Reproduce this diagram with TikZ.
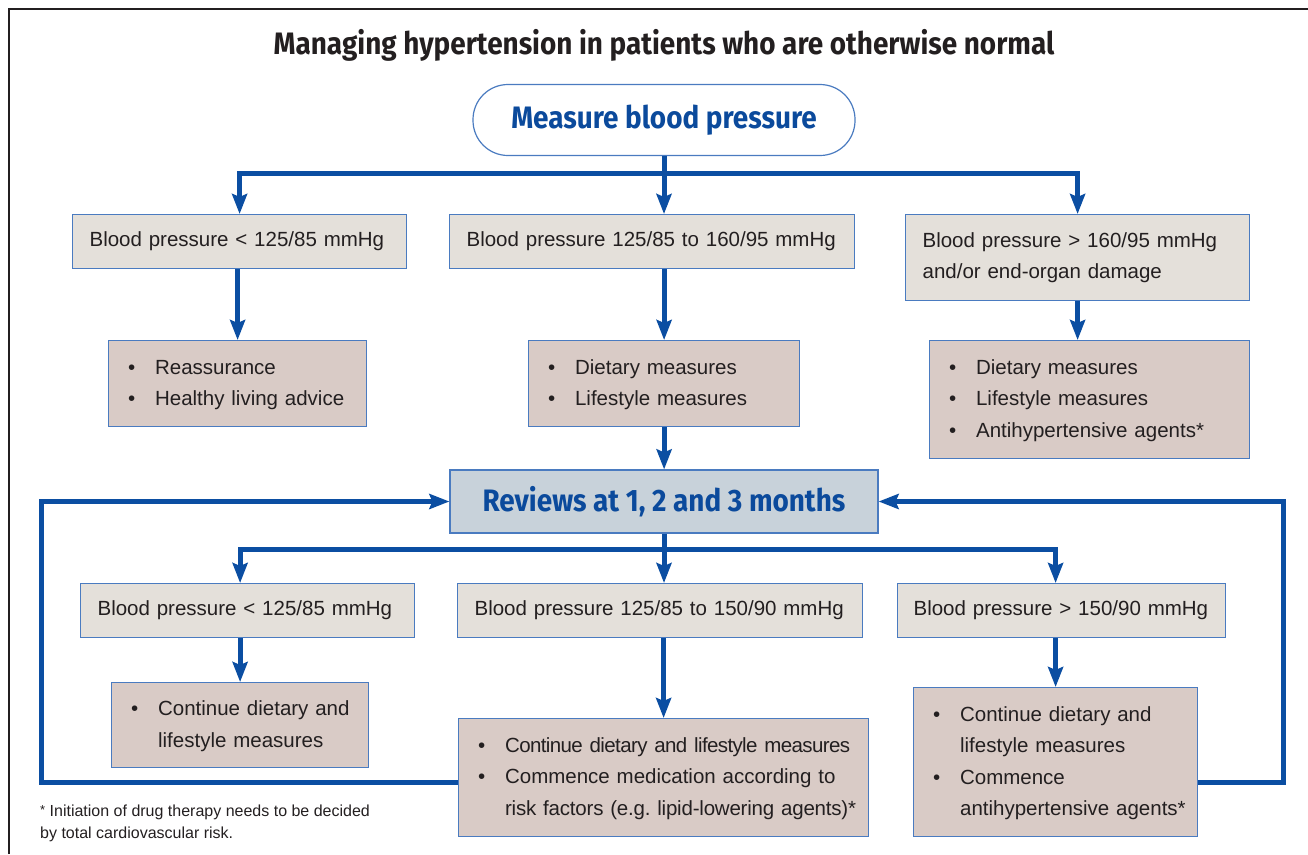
\documentclass[tikz,border=0pt]{standalone}
\usepackage{fontspec}
\setmainfont{Liberation Sans}
\newfontfamily\headfont[FakeStretch=0.9]{Fira Sans}
\usetikzlibrary{arrows.meta,calc}

\definecolor{arrowblue}{HTML}{0B4EA2}
\definecolor{boxline}{HTML}{4A7BC0}
\definecolor{greyfill}{HTML}{E4E0DA}
\definecolor{rosefill}{HTML}{D9CBC6}
\definecolor{reviewfill}{HTML}{C8D2DA}
\definecolor{inkgray}{HTML}{231F20}
\definecolor{headblue}{HTML}{0B4A9C}

\newcommand{\bul}{\makebox[27pt][l]{\textbullet}}
\newcommand{\blist}[1]{\begin{tabular}{@{}l@{}l@{}}#1\end{tabular}}
\newcommand{\tight}[1]{{\addfontfeature{LetterSpace=-3}#1}}

\begin{document}
\begin{tikzpicture}[x=1pt,y=-1pt,
    every node/.style={font=\fontsize{20.5}{31.5}\selectfont, text=inkgray},
    headtext/.style={font=\headfont\bfseries\fontsize{31}{36}\selectfont},
    bpbox/.style={draw=boxline, line width=1.2pt, fill=greyfill, anchor=north west, align=left, inner xsep=17pt, inner ysep=0pt},
    todo/.style={bpbox, fill=rosefill, inner xsep=19.5pt},
    stadium/.style={draw=boxline, line width=1.2pt, fill=white, rounded corners=35pt, minimum width=382pt, minimum height=71pt, headtext, text=headblue},
    flow/.style={draw=arrowblue, line width=5pt, -{Stealth[length=20pt,width=15pt,inset=3pt]}}]
    \useasboundingbox (0,0) rectangle (1308,854);
    \draw[inkgray, line width=1.3pt] (9,854) -- (9,9) -- (1308,9);

    \node[headtext] (title) at (664,45) {Managing hypertension in patients who are otherwise normal};
    \node[stadium] (mbp) at (664,120) {Measure blood pressure};

    \node[bpbox, text width=300pt, minimum height=54pt] (a1) at (72,214) {Blood pressure < 125/85 mmHg};
    \node[bpbox, text width=371pt, minimum height=54pt] (a2) at (449,214) {Blood pressure 125/85 to 160/95 mmHg};
    \node[bpbox, text width=310pt, minimum height=86pt] (a3) at (905,214) {Blood pressure > 160/95 mmHg\\and/or end-organ damage};

    \node[todo, text width=219pt, minimum height=86pt] (b1) at (108,340) {\blist{\bul&Reassurance\\\bul&Healthy living advice}};
    \node[todo, text width=232pt, minimum height=86pt] (b2) at (528,340) {\blist{\bul&Dietary measures\\\bul&Lifestyle measures}};
    \node[todo, text width=281pt, minimum height=118pt] (b3) at (929,340) {\blist{\bul&Dietary measures\\\bul&Lifestyle measures\\\bul&Antihypertensive agents*}};

    \node[draw=boxline, line width=1.2pt, fill=reviewfill, minimum width=428pt, minimum height=63pt, headtext, text=headblue] (rev) at (664,501.5) {Reviews at 1, 2 and 3 months};

    \node[bpbox, text width=300pt, minimum height=54pt] (d1) at (80,583) {Blood pressure < 125/85 mmHg};
    \node[bpbox, text width=371pt, minimum height=54pt] (d2) at (457,583) {Blood pressure 125/85 to 150/90 mmHg};
    \node[bpbox, inner xsep=16pt, text width=296pt, minimum height=54pt] (d3) at (897,583) {Blood pressure > 150/90 mmHg};

    \node[todo, text width=218pt, minimum height=85pt] (e1) at (111,682) {\blist{\bul&Continue dietary and\\&lifestyle measures}};
    \node[todo, text width=371pt, minimum height=118pt] (e2) at (458,718) {\blist{\bul&\tight{Continue dietary and lifestyle measures}\\\bul&Commence medication according to\\&{\addfontfeature{LetterSpace=-1}risk factors (e.g.\ lipid-lowering agents)*}}};
    \node[todo, text width=245pt, minimum height=149pt] (e3) at (913,687) {\blist{\bul&Continue dietary and\\&lifestyle measures\\\bul&Commence\\&antihypertensive agents*}};

    \node[anchor=north west, align=left, inner sep=0pt, font=\fontsize{16}{22}\selectfont] (note) at (40,805) {\raisebox{2.5pt}{\fontsize{13}{13}\selectfont*} Initiation of drug therapy needs to be decided\\by total cardiovascular risk.};

    \coordinate (j1) at ($(mbp.south)+(0,17)$);
    \draw[flow] (mbp.south) -- (mbp.south |- a2.north);
    \draw[flow] (j1) -| (a1.north);
    \draw[flow] (j1) -| (a3.north);
    \draw[flow] (b1.north |- a1.south) -- (b1.north);
    \draw[flow] (b2.north |- a2.south) -- (b2.north);
    \draw[flow] (a3.south) -- (a3.south |- b3.north);
    \draw[flow] (b2.south) -- (b2.south |- rev.north);

    \coordinate (j2) at ($(rev.south)+(0,16)$);
    \draw[flow] (rev.south) -- (rev.south |- d2.north);
    \draw[flow] (j2) -| (e1.north |- d1.north);
    \draw[flow] (j2) -| (e3.north |- d3.north);
    \draw[flow] (e1.north |- d1.south) -- (e1.north);
    \draw[flow] (e2.north |- d2.south) -- (e2.north);
    \draw[flow] (e3.north |- d3.south) -- (e3.north);

    \coordinate (loopL) at (41,782);
    \coordinate (loopR) at (1283,782);
    \draw[flow] (e2.west |- loopL) -- (loopL) |- (rev.west);
    \draw[flow] (e3.east |- loopR) -- (loopR) |- (rev.east);
\end{tikzpicture}
\end{document}
